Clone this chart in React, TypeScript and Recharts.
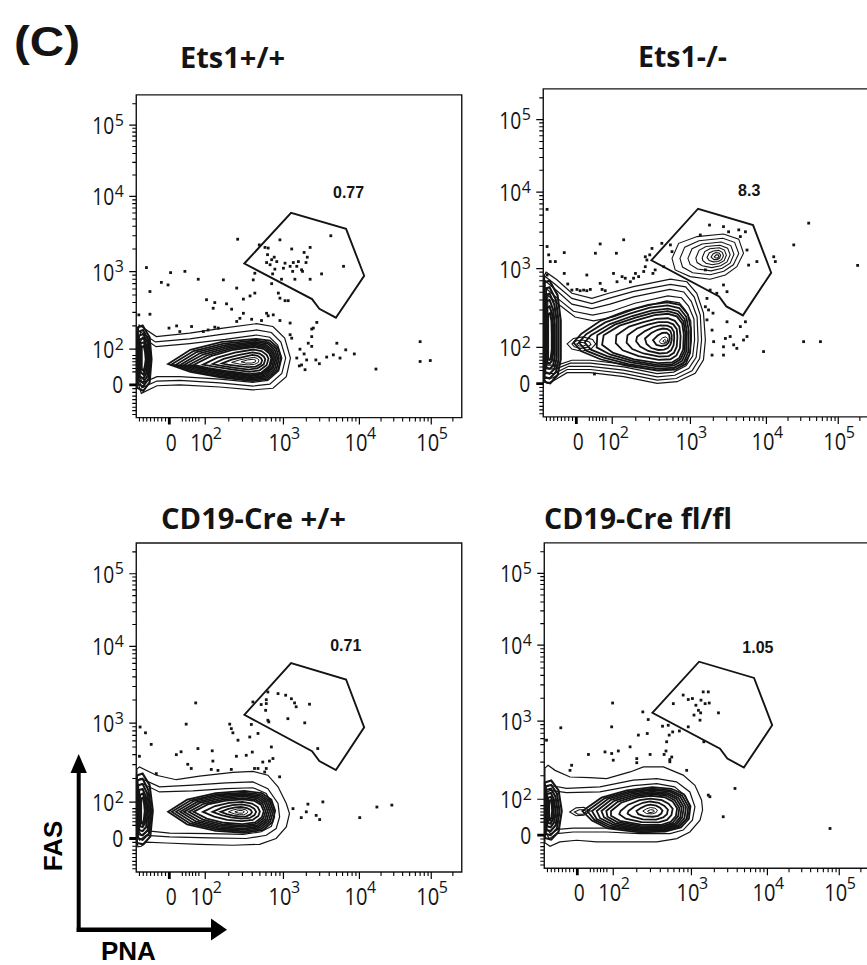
import * as React from "react";
import {
  ComposedChart,
  Line,
  Scatter,
  XAxis,
  YAxis,
  ReferenceArea,
  ReferenceDot,
} from "recharts";

type Pt = [number, number];

// Axis positions are in display channels (0..1024) of the biexponential scale.
const MAJOR_TICKS = [104, 217, 463, 702, 928];
const MAJOR_EXP = ["0", "2", "3", "4", "5"];
const MINOR_TICKS = [
  10, 22, 33, 45, 57, 68, 80, 92, 145, 156, 167, 177, 187, 197, 291, 334, 365,
  389, 408, 425, 439, 452, 535, 577, 607, 630, 649, 665, 679, 691, 770, 810,
  838, 860, 878, 893, 906, 918, 996,
];

// GC B-cell gate (same gate applied to every sample)
const GATE: Pt[] = [
  [340, 489], [487, 650], [660, 599], [717, 450], [628, 317], [576, 345], [553, 376],
];

const GATE_PCT = ["0.77", "8.3", "0.71", "1.05"];
const TITLES = ["Ets1+/+", "Ets1-/-", "CD19-Cre +/+", "CD19-Cre fl/fl"];

// ---------- Ets1+/+ ----------
const P1_OUTER: Pt[][] = [
  [[2,247],[9,294],[63,257],[168,268],[273,284],[378,298],[430,289],[467,252],[485,189],[472,130],[430,93],[367,88],[263,97],[137,104],[65,101],[16,77],[2,120]],
  [[4,235],[14,272],[60,240],[168,250],[273,265],[378,278],[425,270],[455,240],[470,189],[458,140],[420,106],[367,100],[263,110],[137,118],[65,116],[18,95],[4,130]],
  [[6,225],[20,255],[62,225],[168,235],[280,248],[378,262],[420,255],[445,230],[458,189],[448,148],[414,118],[367,112],[263,122],[137,130],[65,130],[20,110],[6,140]],
];
const P1_BULB: Pt[][] = [
  [[2,95],[2,285],[20,292],[42,255],[48,185],[42,112],[22,85]],
  [[5,108],[5,272],[21,278],[39,245],[44,185],[38,122],[21,98]],
  [[8,120],[8,260],[22,265],[36,236],[40,185],[35,132],[21,110]],
  [[11,132],[11,248],[23,252],[33,226],[36,185],[32,142],[22,123]],
  [[14,144],[14,236],[24,239],[30,216],[33,185],[29,152],[23,136]],
  [[17,155],[17,224],[24,227],[28,207],[30,185],[27,162],[23,148]],
];
const P1_CORE: Pt[][] = [
  [[100,170],[170,215],[270,240],[378,250],[420,244],[445,222],[455,189],[446,150],[413,122],[365,116],[265,128],[170,145]],
  [[112,169],[180,211],[275,235],[376,245],[416,239],[440,219],[449,189],[441,152],[410,126],[363,120],[268,131],[178,147]],
  [[125,168],[190,208],[280,230],[375,240],[413,235],[435,216],[444,189],[436,155],[407,130],[362,124],[270,135],[185,150]],
  [[138,167],[200,204],[285,226],[373,236],[409,230],[430,213],[439,189],[431,158],[403,133],[361,127],[275,138],[195,152]],
  [[150,167],[210,200],[290,222],[372,232],[406,226],[426,210],[434,189],[427,160],[400,137],[360,131],[280,141],[205,155]],
  [[165,167],[222,197],[295,218],[371,228],[403,222],[422,207],[429,188],[422,162],[397,140],[359,134],[285,144],[215,156]],
  [[180,167],[235,195],[300,214],[370,224],[400,218],[418,204],[425,188],[418,163],[394,143],[358,138],[290,147],[225,158]],
  [[210,168],[255,190],[310,206],[368,216],[394,211],[410,199],[416,187],[410,166],[388,150],[356,145],[300,153],[245,162]],
  [[240,170],[275,186],[320,198],[366,207],[388,203],[401,194],[406,185],[401,169],[382,157],[354,152],[310,158],[265,165]],
  [[270,172],[300,184],[335,192],[365,199],[382,196],[392,189],[396,182],[392,171],[376,162],[352,160],[318,164],[288,168]],
  [[300,175],[325,183],[350,188],[370,191],[380,188],[386,183],[384,175],[372,169],[352,167],[325,170]],
  [[330,177],[350,183],[368,185],[376,182],[374,176],[362,173],[345,173]],
];
const P1_DOTS: Pt[] = [
  [319,566],[387,548],[405,540],[415,538],[452,564],[413,517],[426,501],[434,509],[442,495],[421,485],
  [410,492],[489,535],[468,490],[494,492],[510,495],[520,469],[547,540],[528,524],[538,509],[534,492],
  [523,464],[612,577],[652,480],[583,456],[547,439],[499,439],[457,439],[429,456],[436,471],[463,474],
  [484,480],[505,480],[492,464],[32,476],[108,460],[153,464],[195,439],[274,437],[79,429],[100,421],
  [43,400],[316,411],[373,458],[368,437],[426,425],[373,395],[358,386],[337,376],[284,361],[247,365],
  [221,374],[242,347],[447,395],[452,379],[468,371],[478,371],[300,344],[337,331],[326,315],[316,305],
  [363,312],[394,308],[410,331],[415,323],[431,326],[452,308],[484,300],[568,302],[552,281],[8,326],
  [43,328],[103,284],[127,291],[137,273],[174,289],[211,273],[226,278],[247,287],[258,284],[484,263],
  [489,252],[515,217],[541,236],[552,226],[528,202],[536,183],[513,164],[531,152],[565,183],[576,171],
  [599,192],[620,199],[641,189],[631,236],[659,215],[686,202],[754,154],[893,241],[893,178],[925,181],
  [552,257],[557,284],[505,189],[520,167],
];

// ---------- Ets1-/- ----------
const P2_OUTER: Pt[][] = [
  [[2,440],[9,452],[43,428],[90,386],[153,370],[206,386],[284,407],[400,430],[452,422],[483,386],[504,324],[510,240],[504,178],[478,136],[421,110],[358,105],[253,126],[148,138],[75,138],[27,110],[12,105],[2,120]],
  [[4,440],[40,412],[90,370],[153,354],[206,370],[284,392],[400,414],[448,406],[475,374],[494,318],[498,240],[492,182],[468,144],[418,120],[358,115],[253,136],[148,148],[75,148],[30,122],[4,120]],
  [[6,425],[40,396],[90,352],[153,338],[210,352],[284,375],[398,398],[442,390],[466,360],[484,312],[487,240],[481,186],[458,152],[414,130],[358,125],[253,146],[148,158],[80,158],[35,136],[6,135]],
  [[10,400],[45,370],[95,330],[155,318],[215,330],[288,355],[392,378],[435,372],[457,346],[474,306],[476,240],[470,190],[449,160],[410,140],[358,135],[253,156],[148,168],[85,168],[40,150],[10,150]],
  [[14,380],[50,350],[100,312],[158,300],[220,312],[292,338],[388,362],[428,356],[448,332],[464,300],[466,240],[460,194],[441,166],[406,150],[358,145],[253,165],[148,177],[90,177],[45,162],[14,162]],
];
const P2_BULB: Pt[][] = [
  [[2,110],[2,420],[20,425],[45,380],[55,300],[55,180],[45,130],[22,105]],
  [[4,125],[4,400],[20,405],[40,365],[48,300],[48,180],[40,140],[20,120]],
  [[6,140],[6,380],[20,385],[35,350],[42,300],[42,185],[35,150],[20,135]],
  [[9,155],[9,360],[20,365],[31,335],[36,290],[36,190],[31,160],[20,150]],
  [[12,170],[12,340],[20,345],[28,320],[31,280],[31,200],[27,175],[20,166]],
  [[15,180],[15,320],[21,324],[26,300],[27,260],[27,210],[24,186],[20,178]],
];
const P2_CORE: Pt[][] = [
  [[120,260],[180,300],[260,330],[330,350],[390,358],[430,350],[455,320],[465,270],[462,200],[448,165],[415,148],[360,145],[260,160],[180,180],[120,205],[95,232]],
  [[135,258],[195,295],[270,322],[335,341],[391,348],[428,340],[450,312],[458,268],[456,202],[442,170],[412,154],[361,151],[268,165],[190,185],[135,207],[112,232]],
  [[150,255],[210,290],[280,315],[340,332],[392,338],[425,330],[445,305],[452,265],[450,205],[437,175],[410,160],[362,157],[275,170],[200,190],[150,210],[130,232]],
  [[170,255],[225,288],[290,310],[345,325],[392,330],[422,322],[441,298],[447,262],[445,207],[432,180],[407,165],[362,162],[280,175],[210,195],[168,217]],
  [[190,255],[240,285],[300,304],[350,318],[392,322],[420,314],[437,292],[442,258],[440,210],[428,184],[405,170],[362,168],[285,180],[220,200],[185,225]],
  [[230,255],[270,282],[315,296],[355,306],[392,308],[414,300],[428,282],[432,252],[430,215],[419,192],[400,180],[363,178],[300,190],[250,208],[228,230]],
  [[265,255],[295,276],[330,288],[362,296],[392,296],[409,289],[420,274],[422,250],[420,220],[411,200],[395,190],[365,188],[315,198],[280,212],[262,232]],
  [[295,250],[320,268],[345,280],[368,286],[390,285],[403,279],[411,266],[412,246],[410,224],[402,208],[390,200],[366,198],[330,206],[305,220],[292,236]],
  [[320,245],[340,262],[360,272],[376,276],[391,274],[400,268],[404,255],[404,240],[400,226],[392,215],[380,210],[362,209],[340,215],[325,228]],
  [[345,240],[360,254],[374,262],[388,263],[396,256],[398,244],[394,232],[386,224],[372,221],[356,225]],
  [[365,236],[375,247],[386,250],[392,244],[390,234],[380,228],[370,229]],
  [[376,236],[382,242],[387,238],[384,232]],
];
const P2_THIN: Pt[][] = [
  [[75,228],[95,245],[125,250],[155,242],[165,228],[150,212],[120,205],[90,212]],
  [[90,228],[105,238],[125,240],[145,234],[150,226],[138,217],[118,214],[98,219]],
  [[105,228],[118,233],[132,231],[136,226],[126,221],[112,222]],
  [[405,495],[426,542],[484,563],[567,571],[615,555],[630,511],[609,469],[573,443],[525,430],[462,438],[415,459]],
  [[430,495],[445,530],[490,550],[565,558],[602,545],[615,510],[598,475],[568,455],[525,444],[470,450],[438,468]],
  [[455,495],[468,525],[500,540],[560,546],[590,535],[600,508],[588,480],[563,464],[528,456],[485,462],[462,476]],
  [[480,496],[490,520],[512,532],[556,536],[580,527],[588,506],[578,484],[558,472],[530,466],[500,472],[484,482]],
  [[500,497],[508,516],[524,525],[554,528],[570,521],[576,505],[569,488],[553,479],[532,475],[512,480],[502,488]],
  [[515,498],[522,512],[535,518],[552,520],[563,514],[567,503],[561,491],[550,485],[535,484],[522,488]],
  [[528,499],[534,509],[543,513],[553,512],[558,505],[555,496],[547,491],[537,491]],
  [[538,500],[544,506],[550,506],[553,501],[548,496],[541,497]],
];
const P2_DOTS: Pt[] = [
  [12,648],[12,532],[17,506],[22,485],[66,513],[38,485],[66,448],[77,415],[90,396],[106,398],
  [116,394],[127,396],[137,394],[148,398],[137,443],[179,540],[164,511],[179,417],[185,398],[195,394],
  [221,448],[230,511],[253,553],[232,422],[248,438],[258,433],[274,422],[284,433],[290,448],[300,438],
  [316,454],[321,469],[326,490],[335,506],[342,526],[321,500],[345,448],[352,459],[373,542],[379,469],
  [400,537],[405,516],[494,568],[523,599],[567,594],[583,578],[615,584],[620,563],[636,578],[641,521],
  [646,474],[672,485],[725,500],[730,485],[788,537],[835,605],[989,473],[510,459],[525,396],[546,386],
  [567,412],[578,391],[515,370],[510,344],[520,334],[534,324],[515,303],[531,271],[578,297],[620,282],
  [636,297],[536,235],[573,245],[588,251],[567,219],[599,225],[609,214],[630,240],[641,251],[531,193],
  [567,193],[693,204],[819,235],[872,235],[161,134],[12,443],
];

// ---------- CD19-Cre +/+ ----------
const P3_OUTER: Pt[][] = [
  [[2,320],[10,327],[63,301],[126,287],[199,298],[304,310],[367,313],[414,301],[446,265],[472,213],[482,182],[472,140],[440,104],[388,86],[304,83],[199,86],[94,90],[31,93],[16,80],[5,78],[2,100]],
  [[4,285],[15,291],[73,265],[178,270],[283,277],[367,280],[414,259],[446,213],[451,171],[440,135],[409,114],[346,104],[231,106],[105,109],[31,114],[10,99],[4,120]],
  [[6,268],[19,275],[73,249],[178,252],[283,259],[367,262],[409,244],[432,202],[435,171],[425,142],[393,125],[336,117],[231,119],[105,121],[37,128],[16,114],[6,130]],
];
const P3_BULB: Pt[][] = [
  [[2,90],[2,300],[20,306],[42,270],[52,190],[44,110],[22,86]],
  [[4,105],[4,285],[20,290],[38,255],[47,190],[40,120],[20,100]],
  [[6,118],[6,270],[20,274],[34,245],[42,190],[36,130],[20,114]],
  [[9,130],[9,255],[20,258],[30,235],[37,190],[31,140],[20,127]],
  [[12,142],[12,240],[21,244],[27,225],[32,190],[27,152],[20,140]],
  [[15,152],[15,228],[21,231],[25,212],[27,190],[24,162],[20,150]],
];
const P3_CORE: Pt[][] = [
  [[100,187],[160,225],[250,245],[340,252],[395,245],[425,225],[437,190],[428,155],[398,130],[340,122],[250,128],[160,148]],
  [[112,187],[170,222],[255,241],[340,247],[391,241],[419,222],[431,190],[422,157],[394,134],[339,126],[254,132],[169,151]],
  [[125,187],[180,220],[260,238],[340,243],[388,237],[414,220],[425,190],[417,160],[390,138],[338,131],[258,136],[178,154]],
  [[138,187],[190,217],[265,234],[339,239],[384,233],[409,217],[419,190],[411,162],[386,142],[337,135],[262,140],[188,157]],
  [[150,187],[200,215],[270,230],[338,235],[380,229],[404,214],[413,190],[406,165],[382,146],[336,140],[266,144],[198,160]],
  [[165,187],[212,212],[276,226],[337,230],[376,225],[398,211],[407,189],[400,167],[378,150],[335,144],[271,148],[210,163]],
  [[180,187],[225,210],[282,222],[336,226],[372,221],[393,208],[401,189],[395,170],[374,154],[334,149],[276,153],[222,166]],
  [[210,187],[248,205],[292,215],[334,218],[364,213],[382,202],[389,188],[384,174],[366,162],[332,158],[286,162],[245,172]],
  [[240,187],[270,200],[302,208],[332,210],[356,206],[371,197],[377,187],[372,177],[357,168],[330,166],[298,170],[268,177]],
  [[265,187],[290,196],[312,201],[330,202],[348,199],[360,193],[364,186],[359,179],[346,173],[328,172],[305,175],[285,180]],
  [[290,187],[305,193],[320,196],[332,196],[345,193],[351,188],[348,182],[338,178],[324,178],[308,181]],
  [[310,187],[322,191],[334,191],[340,187],[334,183],[322,183]],
];
const P3_DOTS: Pt[] = [
  [367,529],[409,524],[414,560],[446,555],[470,550],[488,539],[498,526],[503,514],[545,522],[393,521],
  [407,503],[414,472],[417,467],[477,477],[530,464],[571,384],[409,536],[12,451],[29,433],[47,397],
  [10,360],[126,365],[141,374],[157,460],[194,384],[187,526],[239,377],[241,345],[162,335],[173,322],
  [236,319],[294,460],[299,446],[304,433],[320,410],[315,360],[346,363],[362,459],[357,420],[383,431],
  [365,373],[425,389],[419,345],[430,353],[398,342],[409,322],[404,311],[372,322],[383,322],[63,306],
  [257,316],[299,319],[451,296],[493,197],[519,169],[540,211],[535,187],[566,176],[577,163],[587,218],
  [703,169],[757,202],[804,208],
];

// ---------- CD19-Cre fl/fl ----------
const P4_OUTER: Pt[][] = [
  [[2,315],[12,324],[34,308],[81,287],[144,285],[196,282],[270,303],[312,319],[375,319],[401,308],[437,293],[474,261],[495,214],[498,183],[490,151],[458,114],[417,93],[354,83],[249,83],[165,83],[102,88],[49,83],[18,69],[2,80]],
  [[6,255],[16,261],[70,251],[175,256],[280,277],[354,282],[416,272],[458,240],[474,193],[466,151],[437,120],[396,109],[301,109],[196,114],[91,114],[39,109],[16,93],[6,110]],
  [[8,240],[20,245],[70,238],[175,240],[280,260],[354,266],[410,256],[444,228],[458,193],[451,158],[426,132],[390,122],[301,122],[196,126],[91,126],[42,122],[20,108],[8,125]],
];
const P4_BULB: Pt[][] = [
  [[2,95],[2,270],[22,276],[45,245],[55,180],[45,115],[22,90]],
  [[4,108],[4,258],[22,262],[40,235],[48,180],[40,125],[20,104]],
  [[6,120],[6,246],[21,250],[35,226],[42,180],[36,135],[20,117]],
  [[9,132],[9,234],[21,237],[30,217],[36,180],[31,144],[20,129]],
  [[12,143],[12,222],[21,225],[27,208],[30,180],[27,153],[20,140]],
  [[15,152],[15,212],[21,214],[24,198],[25,180],[23,162],[19,150]],
];
const P4_CORE: Pt[][] = [
  [[120,180],[180,222],[260,245],[340,255],[400,250],[440,232],[460,195],[455,155],[430,128],[380,115],[300,113],[200,125],[150,150]],
  [[135,180],[190,220],[265,241],[340,250],[397,245],[434,228],[453,194],[448,156],[425,131],[378,118],[300,117],[205,129],[158,152]],
  [[150,180],[200,218],[270,238],[340,246],[395,241],[428,225],[446,193],[441,158],[420,134],[376,122],[300,121],[210,133],[165,155]],
  [[165,180],[210,215],[275,234],[339,241],[391,236],[422,221],[439,192],[434,160],[415,137],[374,125],[301,125],[216,137],[176,157]],
  [[180,180],[220,212],[280,230],[338,237],[388,232],[416,218],[432,191],[428,161],[410,140],[372,129],[302,129],[222,141],[188,160]],
  [[195,180],[231,209],[285,226],[337,233],[384,228],[410,214],[425,190],[421,163],[404,143],[369,132],[303,133],[230,145],[199,162]],
  [[210,180],[242,206],[290,222],[336,228],[380,223],[404,210],[418,189],[414,164],[398,146],[366,136],[304,137],[238,149],[210,165]],
  [[240,180],[264,200],[300,214],[334,219],[370,214],[391,203],[404,187],[400,167],[386,152],[360,144],[306,145],[256,156],[236,170]],
  [[265,180],[285,195],[310,206],[333,210],[360,206],[378,196],[389,184],[386,170],[374,160],[352,153],[310,154],[276,163],[262,172]],
  [[290,180],[305,190],[322,198],[334,200],[352,197],[365,190],[372,181],[368,172],[358,165],[342,162],[314,164],[296,170]],
  [[310,180],[322,187],[334,191],[348,189],[356,183],[352,175],[340,171],[322,172]],
  [[325,180],[334,184],[344,183],[346,178],[336,175],[328,176]],
];
const P4_THIN: Pt[][] = [
  [[80,177],[100,190],[125,192],[145,180],[125,167],[100,165]],
  [[95,177],[110,184],[125,184],[133,177],[122,170],[106,170]],
];
const P4_DOTS: Pt[] = [
  [7,403],[52,442],[81,308],[86,324],[139,358],[191,366],[212,361],[217,340],[233,369],[212,445],
  [215,520],[270,382],[291,345],[291,332],[296,419],[310,492],[327,468],[324,424],[333,358],[377,358],
  [383,369],[385,398],[390,450],[393,419],[395,342],[401,350],[395,335],[404,429],[425,432],[448,308],
  [453,445],[406,518],[437,545],[453,531],[466,534],[471,482],[477,513],[485,497],[492,489],[500,555],
  [516,555],[493,529],[506,518],[519,520],[490,466],[548,489],[502,398],[516,230],[521,225],[600,251],
  [563,162],[899,125],[372,447],
];

const INK = "#141414";
const toRows = (pts: Pt[]) => pts.map(([x, y]) => ({ x, y }));

// Plot area is padded around the frame so the tick marks hanging off the
// frame stay inside the drawable region.
const PAD_LO = 26; // channels below/left of the frame
const PAD_HI = 6; // channels above/right of the frame
const DOMAIN: [number, number] = [-PAD_LO, 1024 + PAD_HI];
const SPAN = 1024 + PAD_LO + PAD_HI;

function XLabel(props: any) {
  const { x, payload, off } = props;
  const y = props.y - off; // frame bottom
  const mi = MAJOR_TICKS.indexOf(payload.value as number);
  if (mi < 0) return <g />;
  const e = MAJOR_EXP[mi];
  if (e === "0") {
    return (
      <text x={x + 2} y={y + 33} textAnchor="middle" fontSize={23} fontFamily="Open Sans" fill={INK} textLength={11} lengthAdjust="spacingAndGlyphs">0</text>
    );
  }
  return (
    <g fontFamily="Open Sans" fill={INK}>
      <text x={x - 15} y={y + 33} fontSize={23} textLength={23} lengthAdjust="spacingAndGlyphs">10</text>
      <text x={x + 7.5} y={y + 21} fontSize={16}>{e}</text>
    </g>
  );
}

function YLabel(props: any) {
  const { y, payload, off } = props;
  const x = props.x + off; // frame left
  const mi = MAJOR_TICKS.indexOf(payload.value as number);
  if (mi < 0) return <g />;
  const e = MAJOR_EXP[mi];
  if (e === "0") {
    return (
      <text x={x - 24} y={y + 8.5} fontSize={23} fontFamily="Open Sans" fill={INK} textLength={11} lengthAdjust="spacingAndGlyphs">0</text>
    );
  }
  return (
    <g fontFamily="Open Sans" fill={INK}>
      <text x={x - 44} y={y + 9} fontSize={23} textLength={22} lengthAdjust="spacingAndGlyphs">10</text>
      <text x={x - 21.5} y={y + 0.5} fontSize={16}>{e}</text>
    </g>
  );
}

const Square = (p: any) => (
  <rect x={p.cx - 1.4} y={p.cy - 1.4} width={2.8} height={2.8} fill={INK} />
);

interface PanelProps {
  left: number;
  top: number;
  w: number;
  h: number;
  outer: Pt[][];
  bulb: Pt[][];
  core: Pt[][];
  thin: Pt[][];
  dots: Pt[];
  pct: string;
  pctX: number;
  pctY: number;
}

const ML = 52;
const MT = 4;
const MR = 4;
const MB = 42;

function contourLine(c: Pt[], key: string, width: number) {
  return (
    <Line
      key={key}
      data={toRows(c)}
      dataKey="y"
      type="linearClosed"
      stroke={INK}
      strokeWidth={width}
      dot={false}
      activeDot={false}
      legendType="none"
      isAnimationActive={false}
    />
  );
}

// each tick mark is a two-point line series hanging off the frame
function tickSeries(w: number, h: number) {
  const chPerPxX = 1024 / w;
  const chPerPxY = 1024 / h;
  const out: React.ReactNode[] = [];
  const add = (t: number, len: number, sw: number) => {
    out.push(
      <Line
        key={`tx${t}`}
        data={[{ x: t, y: 0 }, { x: t, y: -len * chPerPxY }]}
        dataKey="y"
        type="linear"
        stroke="#000"
        strokeWidth={sw}
        dot={false}
        activeDot={false}
        legendType="none"
        isAnimationActive={false}
      />,
      <Line
        key={`ty${t}`}
        data={[{ x: 0, y: t }, { x: -len * chPerPxX, y: t }]}
        dataKey="y"
        type="linear"
        stroke="#000"
        strokeWidth={sw}
        dot={false}
        activeDot={false}
        legendType="none"
        isAnimationActive={false}
      />,
    );
  };
  MAJOR_TICKS.forEach((t) => add(t, 7, t === 104 ? 2.8 : 1.2));
  MINOR_TICKS.forEach((t) => add(t, 4, 1.1));
  return out;
}

// left/top/w/h describe the drawn frame (channels 0..1024) in page pixels
function FlowPanel({ left, top, w, h, outer, bulb, core, thin, dots, pct, pctX, pctY }: PanelProps) {
  const pxX = w / 1024;
  const pxY = h / 1024;
  const pw = SPAN * pxX;
  const ph = SPAN * pxY;
  const offX = PAD_LO * pxX;
  const offY = PAD_LO * pxY;
  return (
    <div style={{ position: "absolute", left: left - offX - ML, top: top - PAD_HI * pxY - MT }}>
      <ComposedChart
        width={ML + pw + MR}
        height={MT + ph + MB}
        margin={{ top: MT, right: MR, bottom: 0, left: 0 }}
      >
        <XAxis
          type="number"
          dataKey="x"
          domain={DOMAIN}
          allowDataOverflow
          ticks={MAJOR_TICKS}
          interval={0}
          tickSize={0}
          tickMargin={0}
          tickLine={false}
          tick={(p: any) => <XLabel {...p} off={offY} />}
          height={MB}
          axisLine={false}
        />
        <YAxis
          type="number"
          dataKey="y"
          domain={DOMAIN}
          allowDataOverflow
          ticks={MAJOR_TICKS}
          interval={0}
          tickSize={0}
          tickMargin={0}
          tickLine={false}
          tick={(p: any) => <YLabel {...p} off={offX} />}
          width={ML}
          axisLine={false}
        />
        <ReferenceArea x1={0} x2={1024} y1={0} y2={1024} fill="none" stroke={INK} strokeWidth={1.4} />
        {tickSeries(w, h)}
        {outer.map((c, i) => contourLine(c, `o${i}`, 1.2))}
        {bulb.map((c, i) => contourLine(c, `b${i}`, 2.1))}
        {core.map((c, i) => contourLine(c, `c${i}`, i < core.length - 2 ? 1.8 : 1))}
        {thin.map((c, i) => contourLine(c, `t${i}`, 1.1))}
        <Scatter data={toRows(dots)} shape={Square} isAnimationActive={false} />
        {contourLine(GATE, "gate", 1.9)}
        <ReferenceDot
          x={pctX}
          y={pctY}
          r={1}
          fill="none"
          stroke="none"
          label={{
            value: pct,
            position: "center",
            fontSize: 16,
            fontWeight: 700,
            fontFamily: "Liberation Sans, Arial, sans-serif",
            fill: INK,
          }}
        />
      </ComposedChart>
    </div>
  );
}

export default function App() {
  return (
    <div
      style={{
        position: "absolute",
        left: 0,
        top: 0,
        width: 867,
        height: 965,
        overflow: "hidden",
        background: "#fff",
      }}
    >
      <FlowPanel left={136.5} top={95} w={325.5} h={322.7} outer={P1_OUTER} bulb={P1_BULB} core={P1_CORE} thin={[]} dots={P1_DOTS} pct={GATE_PCT[0]} pctX={668} pctY={714} />
      <FlowPanel left={543} top={89} w={325.5} h={328} outer={P2_OUTER} bulb={P2_BULB} core={P2_CORE} thin={P2_THIN} dots={P2_DOTS} pct={GATE_PCT[1]} pctX={648} pctY={709} />
      <FlowPanel left={136.7} top={542.7} w={325.5} h={329} outer={P3_OUTER} bulb={P3_BULB} core={P3_CORE} thin={[]} dots={P3_DOTS} pct={GATE_PCT[2]} pctX={659} pctY={705} />
      <FlowPanel left={544.3} top={542.7} w={325.5} h={325.3} outer={P4_OUTER} bulb={P4_BULB} core={P4_CORE} thin={P4_THIN} dots={P4_DOTS} pct={GATE_PCT[3]} pctX={672} pctY={694} />

      <svg
        width={867}
        height={965}
        style={{ position: "absolute", left: 0, top: 0, pointerEvents: "none" }}
      >
        <text x={14} y={56} fontSize={42} fontWeight={700} fontFamily="Liberation Sans, Arial, sans-serif" fill={INK} textLength={66} lengthAdjust="spacingAndGlyphs">(C)</text>
        <g fontFamily="Open Sans" fontWeight={700} fill={INK} fontSize={28}>
          <text x={180} y={68} textLength={105} lengthAdjust="spacingAndGlyphs">{TITLES[0]}</text>
          <text x={638} y={67} textLength={89} lengthAdjust="spacingAndGlyphs">{TITLES[1]}</text>
          <text x={161} y={529} textLength={185} lengthAdjust="spacingAndGlyphs">{TITLES[2]}</text>
          <text x={544} y={529} textLength={188} lengthAdjust="spacingAndGlyphs">{TITLES[3]}</text>
        </g>
        <g fill="#000" stroke="none">
          <rect x={76.7} y={770} width={4} height={162} />
          <polygon points="70.5,773 86.9,773 78.7,754" />
          <rect x={76.7} y={927.5} width={136} height={4.5} />
          <polygon points="211,918.5 211,940.5 227,929.7" />
        </g>
        <g fontFamily="Liberation Sans, Arial, sans-serif" fontWeight={700} fontSize={26} fill="#000">
          <text x={101} y={960}>PNA</text>
          <text x={0} y={0} transform="translate(62,846) rotate(-90)" textAnchor="middle">FAS</text>
        </g>
      </svg>
    </div>
  );
}
